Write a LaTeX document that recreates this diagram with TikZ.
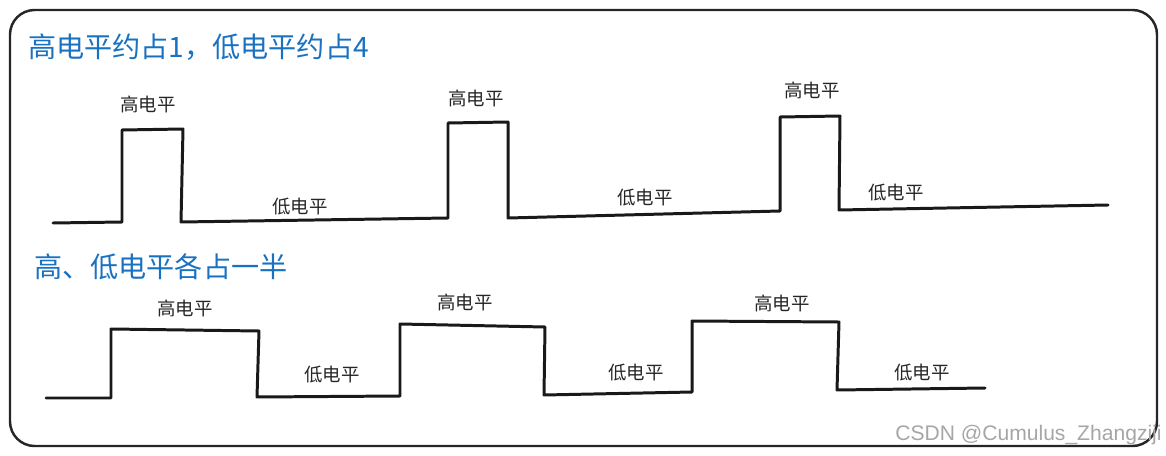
\documentclass[tikz,border=0pt]{standalone}
\usepackage{fontspec}
\setmainfont{Noto Sans CJK SC}
\newfontfamily\wmfont{Liberation Sans}
\definecolor{titleblue}{HTML}{1971C2}

\begin{document}
\begin{tikzpicture}[
  x=0.02cm, y=-0.02cm,
  every node/.style={inner sep=0pt, font=\fontsize{10.5}{12}\selectfont},
  frame/.style={draw=black!85, line width=1.4pt, rounded corners=14pt},
  wave/.style={draw=black!90, line width=1.7pt, line join=round, line cap=round},
  heading/.style={anchor=west, text=titleblue,
                  font=\fontsize{16}{18}\selectfont},
  level/.style={text=black!85},
  watermark/.style={anchor=east, text=black!35,
                    font=\wmfont\fontsize{12}{14}\selectfont},
]
\useasboundingbox (0,0) rectangle (1166,456);
\draw[frame] (10,10) rectangle (1157,446);

% duty cycle about 1:4
\node[heading] (title1) at (28,47) {高电平约占1，低电平约占4};
\draw[wave] (53,223) -- (122,222) -- (122,130) -- (183,129) -- (181,222)
  -- (448,218) -- (448,123) -- (508,122) -- (508,218)
  -- (780,211) -- (780,117) -- (840,116) -- (839,210) -- (1108,205);
\node[level] (high1) at (148,104) {高电平};
\node[level] (high2) at (476,98) {高电平};
\node[level] (high3) at (812,90) {高电平};
\node[level] (low1) at (300,207) {低电平};
\node[level] (low2) at (645,198) {低电平};
\node[level] (low3) at (896,193) {低电平};

% duty cycle 1:1
\node[heading] (title2) at (34,267) {高、低电平各占一半};
\draw[wave] (46,398) -- (111,398) -- (111,329) -- (259,331) -- (257,397)
  -- (400,396) -- (400,324) -- (545,327) -- (544,395)
  -- (692,392) -- (692,321) -- (839,322) -- (837,390) -- (985,388);
\node[level] (high4) at (185,308) {高电平};
\node[level] (high5) at (465,302) {高电平};
\node[level] (high6) at (782,303) {高电平};
\node[level] (low4) at (332,375) {低电平};
\node[level] (low5) at (636,373) {低电平};
\node[level] (low6) at (922,373) {低电平};

\node[watermark] (wm) at (1162,435) {CSDN @Cumulus\_Zhangziji};
\end{tikzpicture}
\end{document}
